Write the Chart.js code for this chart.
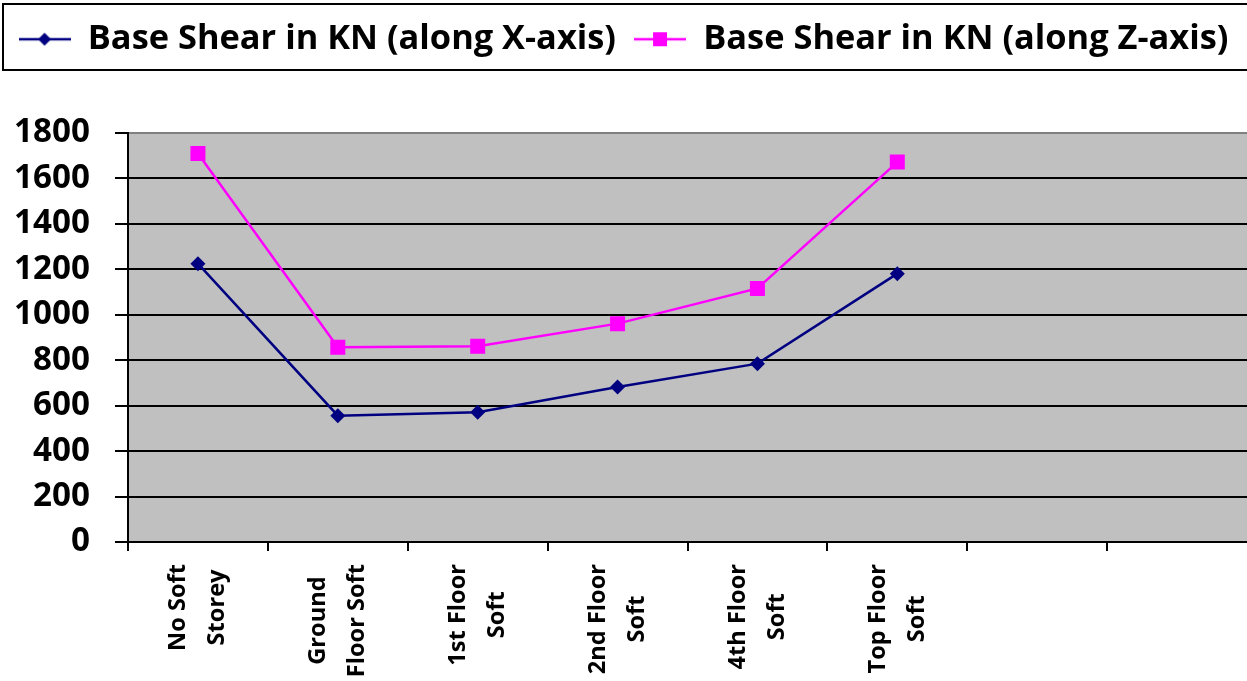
<!DOCTYPE html>
<html>
<head>
<meta charset="utf-8">
<title>Base Shear</title>
<script src="https://cdn.jsdelivr.net/npm/chart.js@4.4.1/dist/chart.umd.min.js"></script>
<style>
  html, body { margin: 0; padding: 0; background: #ffffff; }
  #wrap { width: 1247px; height: 681px; position: relative; }
</style>
</head>
<body>
<div id="wrap"><canvas id="chart"></canvas></div>
<script>
// Storey configurations (two text lines each); the last two slots stay empty
const categories = [
  ['No Soft', 'Storey'],
  ['Ground', 'Floor Soft'],
  ['1st Floor', 'Soft'],
  ['2nd Floor', 'Soft'],
  ['4th Floor', 'Soft'],
  ['Top Floor', 'Soft'],
  '',
  ''
];
const seriesNames = ['Base Shear in KN (along X-axis)', 'Base Shear in KN (along Z-axis)'];
const shearX = [1225, 556, 571, 682, 785, 1181];
const shearZ = [1710, 857, 862, 961, 1116, 1672];
const yTicks = [0, 200, 400, 600, 800, 1000, 1200, 1400, 1600, 1800];

const FAMILY = '"Open Sans", "DejaVu Sans", sans-serif';
const NAVY = '#000080';
const MAGENTA = '#FF00FF';

// pick a bold font size so that a sample string spans a given width
const meas = document.createElement('canvas').getContext('2d');
function fitSize(text, width) {
  meas.font = 'bold 100px ' + FAMILY;
  return Math.round(1000 * width / meas.measureText(text).width) / 10;
}
const legendSize = fitSize(seriesNames[0], 528);
const yTickSize = fitSize('1800', 76);
const xLabelSize = fitSize('Floor Soft', 113);

// legend glyph: short line with the series marker in the middle
function legendGlyph(color, shape) {
  const c = document.createElement('canvas');
  c.width = 52; c.height = 18;
  const g = c.getContext('2d');
  g.strokeStyle = color; g.lineWidth = 2.5;
  g.beginPath(); g.moveTo(0, 9); g.lineTo(52, 9); g.stroke();
  g.fillStyle = color;
  if (shape === 'diamond') {
    g.beginPath(); g.moveTo(26, 2.5); g.lineTo(32.5, 9); g.lineTo(26, 15.5); g.lineTo(19.5, 9); g.closePath(); g.fill();
  } else {
    g.fillRect(19, 2, 14, 14);
  }
  return c;
}
const glyphs = [legendGlyph(NAVY, 'diamond'), legendGlyph(MAGENTA, 'square')];

// reserve room under the legend so the plot starts lower
const legendSpace = {
  id: 'legendSpace',
  beforeInit(chart) {
    const orig = chart.legend.fit;
    chart.legend.fit = function () { orig.call(this); this.height = 129; };
  }
};

// grey plot backdrop and the framed legend
const frame = {
  id: 'frame',
  beforeDraw(chart) {
    const { ctx, chartArea: a } = chart;
    ctx.save();
    ctx.fillStyle = '#C0C0C0';
    ctx.fillRect(a.left, a.top, a.right - a.left, a.bottom - a.top);
    ctx.restore();
  },
  afterDraw(chart) {
    const ctx = chart.ctx;
    ctx.save();
    ctx.strokeStyle = '#000000';
    ctx.lineWidth = 2;
    ctx.strokeRect(3, 4, chart.width + 10, 66);
    ctx.restore();
  }
};

// rotated category labels, lines centred on each other, block ending near the axis
const categoryLabels = {
  id: 'categoryLabels',
  afterDraw(chart) {
    const xs = chart.scales.x;
    const ctx = chart.ctx;
    ctx.save();
    ctx.font = 'bold ' + xLabelSize + 'px ' + FAMILY;
    ctx.fillStyle = '#000000';
    ctx.textAlign = 'center';
    ctx.textBaseline = 'middle';
    chart.data.labels.forEach((lab, i) => {
      const lines = Array.isArray(lab) ? lab : (lab ? [lab] : []);
      if (!lines.length) return;
      const cx = xs.getPixelForValue(i);
      const len = Math.max(...lines.map(l => ctx.measureText(l).width));
      const cy = chart.chartArea.bottom + 22 + len / 2;
      lines.forEach((line, k) => {
        const off = (k - (lines.length - 1) / 2) * 39;
        ctx.save();
        ctx.translate(cx + off, cy);
        ctx.rotate(-Math.PI / 2);
        ctx.fillText(line, 0, 0);
        ctx.restore();
      });
    });
    ctx.restore();
  }
};

new Chart(document.getElementById('chart'), {
  type: 'line',
  data: {
    labels: categories,
    datasets: [
      {
        label: seriesNames[0],
        data: shearX,
        borderColor: NAVY,
        backgroundColor: NAVY,
        borderWidth: 2.5,
        tension: 0,
        pointStyle: 'rectRot',
        pointRadius: 7.5,
        pointHoverRadius: 7.5,
        pointBorderWidth: 0
      },
      {
        label: seriesNames[1],
        data: shearZ,
        borderColor: MAGENTA,
        backgroundColor: MAGENTA,
        borderWidth: 2.5,
        tension: 0,
        pointStyle: 'rect',
        pointRadius: 10.6,
        pointHoverRadius: 10.6,
        pointBorderWidth: 0
      }
    ]
  },
  options: {
    responsive: true,
    maintainAspectRatio: false,
    animation: false,
    layout: { padding: { top: 4, left: 0, right: 0, bottom: 0 }, autoPadding: false },
    plugins: {
      tooltip: { enabled: false },
      legend: {
        position: 'top',
        labels: {
          usePointStyle: true,
          pointStyleWidth: 52,
          padding: 18,
          color: '#000000',
          font: { family: FAMILY, size: legendSize, weight: 'bold' },
          generateLabels(chart) {
            return chart.data.datasets.map((ds, i) => ({
              text: ds.label,
              pointStyle: glyphs[i],
              fillStyle: ds.borderColor,
              strokeStyle: ds.borderColor,
              lineWidth: 0,
              hidden: false,
              datasetIndex: i,
              fontColor: '#000000'
            }));
          }
        }
      }
    },
    scales: {
      x: {
        type: 'category',
        offset: true,
        afterFit(s) { s.height = 139; },
        grid: {
          offset: true,
          drawOnChartArea: false,
          drawTicks: true,
          tickLength: 9,
          // the closing boundary sits on the canvas edge, leave it unmarked
          color: ctx => (ctx.tick ? '#000000' : 'rgba(0,0,0,0)'),
          lineWidth: 2
        },
        border: { display: true, color: '#000000', width: 2 },
        ticks: { display: false }
      },
      y: {
        min: 0,
        max: 1800,
        afterFit(s) { s.width = 128; },
        afterBuildTicks(s) { s.ticks = yTicks.map(v => ({ value: v })); },
        grid: {
          color: ctx => (ctx.tick && ctx.tick.value === 1800 ? '#808080' : '#000000'),
          tickColor: '#000000',
          lineWidth: 2,
          drawTicks: true,
          tickLength: 13
        },
        border: { display: true, color: '#000000', width: 2 },
        ticks: {
          padding: 25,
          color: '#000000',
          font: { family: FAMILY, size: yTickSize, weight: 'bold' },
          callback: v => String(v)
        }
      }
    }
  },
  plugins: [legendSpace, frame, categoryLabels]
});
</script>
</body>
</html>
